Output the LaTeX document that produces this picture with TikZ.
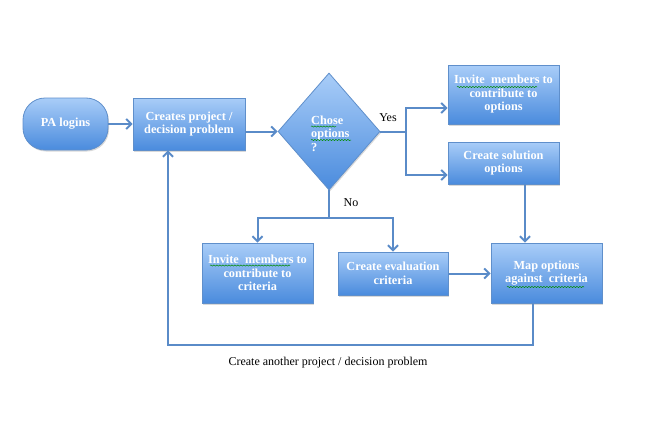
\documentclass[tikz,border=0pt]{standalone}
\usepackage{fontspec}
\setmainfont{Liberation Serif}
\usetikzlibrary{shapes.geometric,arrows.meta,shadows,decorations.pathmorphing}
\definecolor{linec}{HTML}{5A8BC8}
\definecolor{topc}{HTML}{A9CDF8}
\definecolor{botc}{HTML}{4A8BDD}
\definecolor{edgec}{HTML}{5F8FCB}
\tikzset{
  boxfont/.style={font=\fontsize{12.3}{13.5}\selectfont\bfseries},
  box/.style={rectangle, draw=edgec, line width=0.8pt, top color=topc, bottom color=botc,
    text=white, align=center, boxfont, inner sep=1pt,
    drop shadow={shadow xshift=1pt, shadow yshift=-1.5pt, opacity=0.3}},
  conn/.style={draw=linec, line width=2pt},
  arr/.style={conn, -{Straight Barb[length=5pt,width=10pt,line width=2pt]}},
  lbl/.style={font=\fontsize{12}{13.5}\selectfont, text=black},
  squig/.style={draw=green!55!black, line width=0.5pt, decorate,
    decoration={snake, amplitude=0.6pt, segment length=3pt}}
}
\begin{document}
\begin{tikzpicture}[x=1pt,y=-1pt]
\useasboundingbox (0,0) rectangle (668,420);
% nodes
\node[box, rounded corners=22pt, minimum width=85pt, minimum height=52pt] (pa) at (65.5,124) {PA logins};
\node[box, minimum width=112pt, minimum height=52pt] (cp) at (189,124) {Creates project /\\decision problem};
\node[diamond, draw=edgec, line width=0.8pt, top color=topc, bottom color=botc, inner sep=0pt,
  minimum width=102pt, minimum height=117pt,
  drop shadow={shadow xshift=1pt, shadow yshift=-1.5pt, opacity=0.3}] (dia) at (329,131.5) {};
\node[anchor=west, align=left, text=white, boxfont, inner sep=0pt] (diat) at (311,133.5) {Chose\\options\\?};
\node[box, minimum width=111pt, minimum height=59pt] (io) at (503.5,94.5) {Invite\ \ members to\\contribute to\\options};
\node[box, minimum width=111pt, minimum height=42pt] (cs) at (503.5,163) {Create solution\\options};
\node[box, minimum width=111pt, minimum height=60pt] (ic) at (257.5,273) {Invite\ \ members to\\contribute to\\criteria};
\node[box, minimum width=110pt, minimum height=43pt] (ce) at (393,273.5) {Create evaluation\\criteria};
\node[box, minimum width=111pt, minimum height=60pt] (mo) at (546.5,273) {Map options\\against\ \ criteria};
% labels
\node[lbl] (yes) at (388,118) {Yes};
\node[lbl] (no) at (351,203) {No};
\node[lbl] (loop) at (328,363) {Create another project / decision problem};
% coordinates
\coordinate (yt) at (406,108);
\coordinate (yb) at (406,175);
\coordinate (nb) at (329,218);
\coordinate (mx) at (525,0);
\coordinate (lx) at (533,345);
\coordinate (cx) at (168,345);
% connectors
\draw[arr] (pa.east) -- (cp.west);
\draw[arr] (cp.east |- dia.west) -- (dia.west);
\draw[conn] (dia.east) -- (dia.east -| yt);
\draw[arr] (dia.east -| yt) -- (yt) -- (yt -| io.west);
\draw[arr] (dia.east -| yt) -- (yb) -- (yb -| cs.west);
\draw[arr] (cs.south -| mx) -- (mo.north -| mx);
\draw[conn] (dia.south) -- (nb);
\draw[arr] (nb) -| (ic.north);
\draw[arr] (nb) -| (ce.north);
\draw[arr] (ce.east) -- (ce.east -| mo.west);
\draw[arr] (mo.south -| lx) -- (lx) -- (cx) -- (cp.south -| cx);
% spell-check squiggles
\draw[squig] (311,126.5) -- (336,126.5);
\draw[squig] (311,140) -- (351,140);
\draw[squig] (457,87) -- (537,87);
\draw[squig] (210,265.5) -- (290,265.5);
\draw[squig] (507,287) -- (584,287);
\end{tikzpicture}
\end{document}
